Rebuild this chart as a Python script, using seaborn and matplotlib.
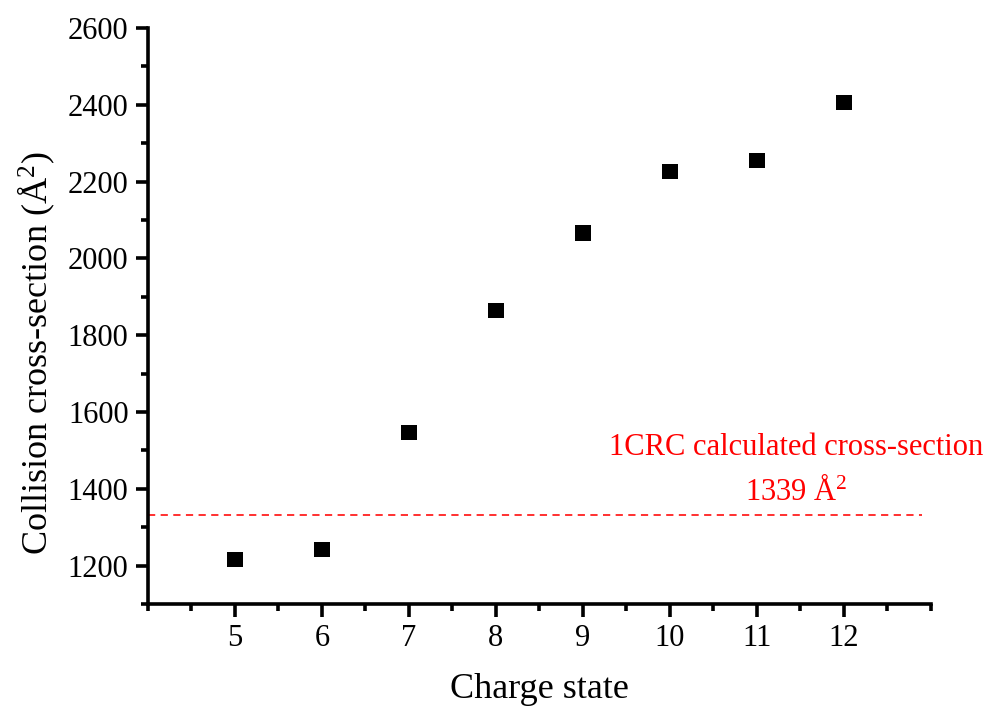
import matplotlib
matplotlib.use("Agg")
import matplotlib.pyplot as plt
from matplotlib.ticker import MultipleLocator
import seaborn as sns
import pandas as pd

charge_state = [5, 6, 7, 8, 9, 10, 11, 12]
ccs = [1216, 1243, 1546, 1864, 2066, 2227, 2255, 2406]
calc_ccs_line = 1332
calc_label = "1CRC calculated cross-section"
calc_value_label = "1339 Å$^2$"

sns.set_style("ticks")
plt.rcParams["font.family"] = ["Liberation Serif", "DejaVu Serif"]
plt.rcParams["mathtext.fontset"] = "custom"
plt.rcParams["mathtext.rm"] = "Liberation Serif"
plt.rcParams["mathtext.it"] = "Liberation Serif:italic"
plt.rcParams["text.color"] = "black"
plt.rcParams["axes.labelcolor"] = "black"
plt.rcParams["axes.edgecolor"] = "black"

df = pd.DataFrame({"charge": charge_state, "ccs": ccs})

fig = plt.figure(figsize=(9.84, 7.09), dpi=100)
ax = fig.add_axes([0.1504, 0.148, 0.7957, 0.8125])

sns.scatterplot(data=df, x="charge", y="ccs", marker="s", s=120,
                color="black", edgecolor="none", ax=ax, zorder=3)

# reference line for the calculated value
ax.hlines(calc_ccs_line, 4, 12.9, colors="#ff2020", linestyles=(0, (4, 3)), lw=1.3)
ax.text(11.45, 1508, calc_label, color="red", fontsize=22, ha="center", va="center")
ax.text(11.45, 1393, calc_value_label, color="red", fontsize=22, ha="center", va="center")

ax.set_xlim(4, 13)
ax.set_ylim(1100, 2600)
ax.xaxis.set_major_locator(MultipleLocator(1))
ax.xaxis.set_minor_locator(MultipleLocator(0.5))
ax.yaxis.set_major_locator(MultipleLocator(200))
ax.yaxis.set_minor_locator(MultipleLocator(100))
ax.set_xticks(range(5, 13))

ax.set_xlabel("Charge state", fontsize=26, color="black")
ax.set_ylabel("Collision cross-section (Å$^2$)", fontsize=26, color="black")
ax.xaxis.set_label_coords(0.5, -0.12)
ax.yaxis.set_label_coords(-0.142, 0.436)
ax.yaxis.label.set_va("center")

for side in ["top", "right"]:
    ax.spines[side].set_visible(False)
for side in ["left", "bottom"]:
    ax.spines[side].set_linewidth(2.6)
    ax.spines[side].set_color("black")

ax.tick_params(axis="both", which="major", direction="out", length=9, width=2.6,
               labelsize=22, color="black", labelcolor="black")
ax.tick_params(axis="both", which="minor", direction="out", length=5, width=2.6, color="black")
ax.tick_params(axis="x", pad=5)
ax.tick_params(axis="y", pad=5)

fig.savefig("out.png", dpi=100)
